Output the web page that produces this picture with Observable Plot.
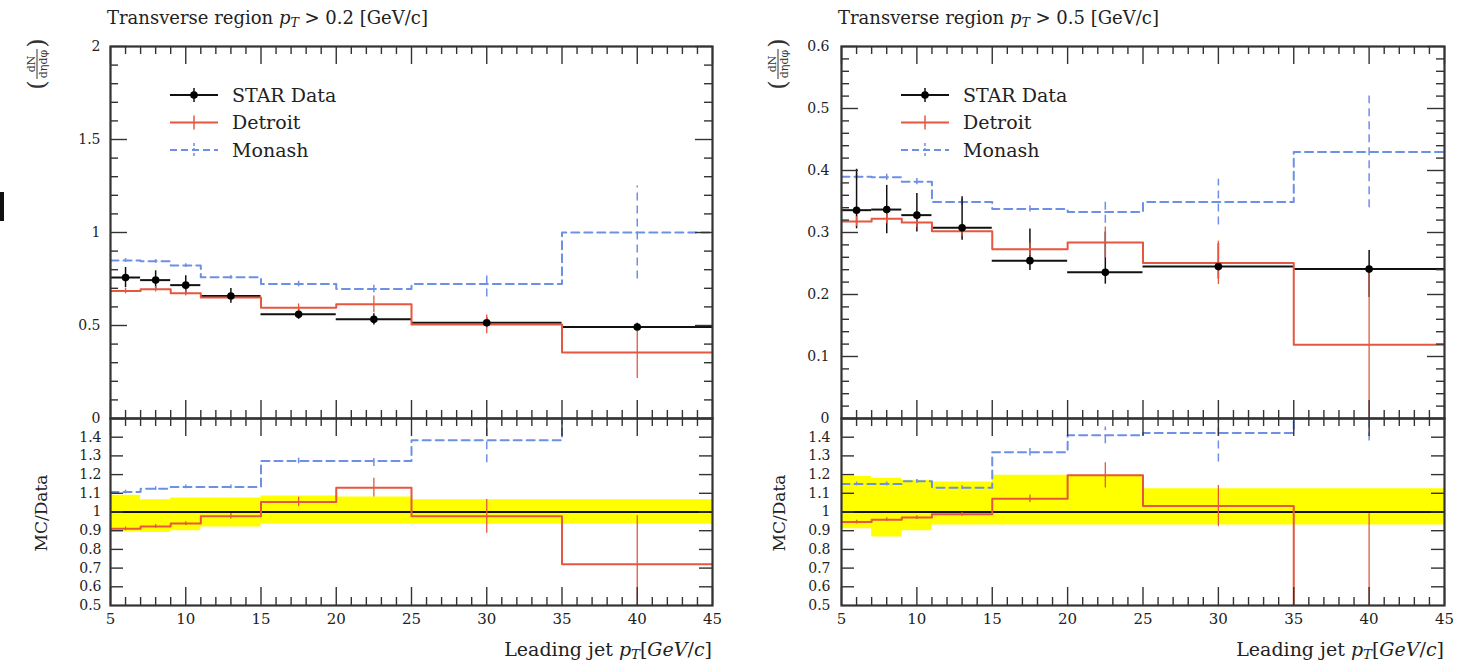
<!DOCTYPE html>
<html><head><meta charset="utf-8">
<script src="https://cdn.jsdelivr.net/npm/d3@7"></script>
<script src="https://cdn.jsdelivr.net/npm/@observablehq/plot@0.6"></script>
<style>
body{margin:0;background:#fff;}
#fig{position:relative;width:1466px;height:664px;overflow:hidden;font-family:"DejaVu Serif",serif;color:#222;}
.abs{position:absolute;}
.title{font-size:18px;white-space:nowrap;line-height:1;}
.xlab{font-size:19px;white-space:nowrap;line-height:1;text-align:right;}
sub{font-size:0.7em;vertical-align:-0.25em;line-height:0;}
</style></head><body><div id="fig"></div>
<script>
// ---- data ----
const edges = [5, 7, 9, 11, 15, 20, 25, 35, 45];
const centers = [6, 8, 10, 13, 17.5, 22.5, 30, 40];
const xMajorTicks = [5, 10, 15, 20, 25, 30, 35, 40, 45];
const xMinorTicks = [6,7,8,9,11,12,13,14,16,17,18,19,21,22,23,24,26,27,28,29,31,32,33,34,36,37,38,39,41,42,43,44];
const legendNames = ["STAR Data", "Detroit", "Monash"];

// pT > 0.2 GeV/c
const yTicks02 = [0, 0.5, 1, 1.5, 2];
const yMinor02 = [0.1,0.2,0.3,0.4,0.6,0.7,0.8,0.9,1.1,1.2,1.3,1.4,1.6,1.7,1.8,1.9];
const star02 = [0.758, 0.744, 0.717, 0.659, 0.560, 0.533, 0.515, 0.492];
const star02Err = [0.054, 0.05, 0.05, 0.04, 0.027, 0.03, 0.027, 0.02];
const detroit02 = [0.686, 0.695, 0.674, 0.650, 0.596, 0.614, 0.506, 0.355];
const detroit02Err = [0.015, 0.015, 0.015, 0.015, 0.02, 0.045, 0.05, 0.14];
const monash02 = [0.85, 0.845, 0.822, 0.759, 0.723, 0.696, 0.723, 1.0];
const monash02Err = [0.01, 0.01, 0.01, 0.01, 0.015, 0.02, 0.07, 0.25];
const detroitRatio02 = [0.91, 0.923, 0.938, 0.977, 1.054, 1.13, 0.977, 0.72];
const detroitRatio02Err = [0.01, 0.01, 0.01, 0.015, 0.025, 0.05, 0.09, 0.26];
const monashRatio02 = [1.107, 1.125, 1.134, 1.134, 1.273, 1.273, 1.384, 2.03];
const monashRatio02Err = [0.01, 0.01, 0.01, 0.01, 0.015, 0.03, 0.12, 0.5];
const band02Lo = [0.893, 0.89, 0.90, 0.92, 0.934, 0.934, 0.934, 0.934];
const band02Hi = [1.09, 1.065, 1.075, 1.075, 1.085, 1.08, 1.066, 1.066];

// pT > 0.5 GeV/c
const yTicks05 = [0, 0.1, 0.2, 0.3, 0.4, 0.5, 0.6];
const yMinor05 = [0.02,0.04,0.06,0.08,0.12,0.14,0.16,0.18,0.22,0.24,0.26,0.28,0.32,0.34,0.36,0.38,0.42,0.44,0.46,0.48,0.52,0.54,0.56,0.58];
const star05 = [0.336, 0.337, 0.328, 0.3075, 0.2546, 0.2357, 0.245, 0.241];
const star05ErrUp = [0.066, 0.039, 0.035, 0.05, 0.051, 0.065, 0.037, 0.03];
const star05ErrDn = [0.03, 0.039, 0.027, 0.02, 0.016, 0.019, 0.02, 0.046];
const detroit05 = [0.3176, 0.322, 0.316, 0.302, 0.273, 0.284, 0.251, 0.119];
const detroit05Err = [0.008, 0.008, 0.008, 0.008, 0.01, 0.025, 0.035, 0.125];
const monash05 = [0.39, 0.389, 0.382, 0.349, 0.338, 0.333, 0.349, 0.430];
const monash05Err = [0.005, 0.005, 0.005, 0.005, 0.005, 0.018, 0.037, 0.09];
const detroitRatio05 = [0.946, 0.959, 0.97, 0.9875, 1.071, 1.196, 1.032, 0.49];
const detroitRatio05Err = [0.01, 0.01, 0.01, 0.01, 0.02, 0.067, 0.11, 0.5];
const monashRatio05 = [1.15, 1.15, 1.164, 1.13, 1.32, 1.41, 1.423, 1.78];
const monashRatio05Err = [0.01, 0.01, 0.01, 0.01, 0.02, 0.045, 0.155, 0.4];
const band05Lo = [0.91, 0.866, 0.90, 0.93, 0.93, 0.93, 0.93, 0.93];
const band05Hi = [1.19, 1.18, 1.17, 1.16, 1.196, 1.196, 1.125, 1.125];

const ratioTicks = [0.5, 0.6, 0.7, 0.8, 0.9, 1, 1.1, 1.2, 1.3, 1.4];

// ---- styles ----
const RED = "#e5573f", BLUE = "#6d8fe6", YEL = "#ffff00", FRAME = "#333";
const DASH = "8,5";
const FONT = "DejaVu Serif";
const W = 733;

const fig = document.getElementById("fig");

function bins(vals, eLo, eHi) {
  return centers.map((c, i) => ({lo: edges[i], hi: edges[i + 1], c, v: vals[i],
    y1: vals[i] - eLo[i], y2: vals[i] + (eHi ? eHi[i] : eLo[i])}));
}
function steps(vals) {
  const p = [];
  vals.forEach((v, i) => { p.push({x: edges[i], y: v}); p.push({x: edges[i + 1], y: v}); });
  return p;
}
function bandSteps(lo, hi) {
  const p = [];
  lo.forEach((l, i) => { p.push({x: edges[i], lo: l, hi: hi[i]}); p.push({x: edges[i + 1], lo: l, hi: hi[i]}); });
  return p;
}
function tickMarks(fw, fh, yMajor, yMinor, yMajLen, yMinLen) {
  const xs = {stroke: FRAME, strokeWidth: 1.4};
  const m = [
    Plot.ruleX(xMinorTicks, {x: d => d, insetBottom: fh - 8, ...xs}),
    Plot.ruleX(xMinorTicks, {x: d => d, insetTop: fh - 8, ...xs}),
    Plot.ruleX(xMajorTicks, {x: d => d, insetBottom: fh - 18, ...xs}),
    Plot.ruleX(xMajorTicks, {x: d => d, insetTop: fh - 18, ...xs}),
    Plot.ruleY(yMajor, {y: d => d, insetRight: fw - yMajLen, ...xs}),
    Plot.ruleY(yMajor, {y: d => d, insetLeft: fw - yMajLen, ...xs})
  ];
  if (yMinor) m.push(
    Plot.ruleY(yMinor, {y: d => d, insetRight: fw - yMinLen, ...xs}),
    Plot.ruleY(yMinor, {y: d => d, insetLeft: fw - yMinLen, ...xs}));
  return m;
}
function place(svg, left, top) {
  svg.style.position = "absolute";
  svg.style.left = left + "px";
  svg.style.top = top + "px";
  fig.appendChild(svg);
}

function upper({left, ml, mr, yDomain, yTicks, yMinor, pad, star, starDn, starUp, det, detErr, mon, monErr}) {
  const height = 420, mt = 46, mb = 2;
  const fw = W - ml - mr, fh = height - mt - mb;
  const S = bins(star, starDn, starUp), D = bins(det, detErr), M = bins(mon, monErr);
  const svg = Plot.plot({
    width: W, height, marginTop: mt, marginBottom: mb, marginLeft: ml, marginRight: mr,
    x: {domain: [5, 45], axis: null}, y: {domain: yDomain, axis: null},
    style: {fontFamily: FONT, fontSize: "14px", background: "transparent", overflow: "visible", color: "#222"},
    marks: [
      Plot.line(steps(mon), {x: "x", y: "y", stroke: BLUE, strokeWidth: 2, strokeDasharray: DASH, clip: true}),
      Plot.ruleX(M, {x: "c", y1: "y1", y2: "y2", stroke: BLUE, strokeWidth: 1.5, strokeDasharray: DASH, clip: true}),
      Plot.ruleY(S, {y: "v", x1: "lo", x2: "hi", stroke: "#111", strokeWidth: 2, clip: true}),
      Plot.ruleX(S, {x: "c", y1: "y1", y2: "y2", stroke: "#111", strokeWidth: 1.5, clip: true}),
      Plot.line(steps(det), {x: "x", y: "y", stroke: RED, strokeWidth: 2, clip: true}),
      Plot.ruleX(D, {x: "c", y1: "y1", y2: "y2", stroke: RED, strokeWidth: 1.3, clip: true}),
      Plot.dot(S, {x: "c", y: "v", r: 3.8, fill: "#000", clip: true}),
      ...tickMarks(fw, fh, yTicks, yMinor, 17, 8),
      Plot.frame({stroke: FRAME, strokeWidth: 2.2}),
      Plot.axisY({ticks: yTicks, tickSize: 0, tickPadding: pad, tickFormat: d => String(d), fontSize: 14})
    ]
  });
  place(svg, left, 0);
}

function ratio({left, ml, mr, pad, bandLo, bandHi, det, detErr, mon, monErr}) {
  const top = 400, height = 264, mt = 18, mb = 59;
  const fw = W - ml - mr, fh = height - mt - mb;
  const D = bins(det, detErr), M = bins(mon, monErr);
  const svg = Plot.plot({
    width: W, height, marginTop: mt, marginBottom: mb, marginLeft: ml, marginRight: mr,
    x: {domain: [5, 45], axis: null}, y: {domain: [0.5, 1.5], axis: null},
    style: {fontFamily: FONT, fontSize: "14px", background: "transparent", overflow: "visible", color: "#222"},
    marks: [
      Plot.areaY(bandSteps(bandLo, bandHi), {x: "x", y1: "lo", y2: "hi", fill: YEL, clip: true}),
      Plot.ruleY([1], {stroke: "#111", strokeWidth: 2.2}),
      Plot.line(steps(mon), {x: "x", y: "y", stroke: BLUE, strokeWidth: 2, strokeDasharray: DASH, clip: true}),
      Plot.ruleX(M, {x: "c", y1: "y1", y2: "y2", stroke: BLUE, strokeWidth: 1.5, strokeDasharray: DASH, clip: true}),
      Plot.line(steps(det), {x: "x", y: "y", stroke: RED, strokeWidth: 2, clip: true}),
      Plot.ruleX(D, {x: "c", y1: "y1", y2: "y2", stroke: RED, strokeWidth: 1.3, clip: true}),
      ...tickMarks(fw, fh, ratioTicks.slice(1), null, 13, 0),
      Plot.frame({stroke: FRAME, strokeWidth: 2.2}),
      Plot.axisY({ticks: ratioTicks, tickSize: 0, tickPadding: pad, tickFormat: d => String(d), fontSize: 14}),
      Plot.axisX({ticks: xMajorTicks, tickSize: 0, tickPadding: 8, tickFormat: d => String(d), fontSize: 15})
    ]
  });
  place(svg, left, top);
}

upper({left: 0, ml: 110, mr: 21, yDomain: [0, 2], yTicks: yTicks02, yMinor: yMinor02, pad: 10,
  star: star02, starDn: star02Err, starUp: star02Err, det: detroit02, detErr: detroit02Err, mon: monash02, monErr: monash02Err});
ratio({left: 0, ml: 110, mr: 21, pad: 9, bandLo: band02Lo, bandHi: band02Hi,
  det: detroitRatio02, detErr: detroitRatio02Err, mon: monashRatio02, monErr: monashRatio02Err});
upper({left: 733, ml: 108, mr: 22, yDomain: [0, 0.6], yTicks: yTicks05, yMinor: yMinor05, pad: 12,
  star: star05, starDn: star05ErrDn, starUp: star05ErrUp, det: detroit05, detErr: detroit05Err, mon: monash05, monErr: monash05Err});
ratio({left: 733, ml: 108, mr: 22, pad: 11, bandLo: band05Lo, bandHi: band05Hi,
  det: detroitRatio05, detErr: detroitRatio05Err, mon: monashRatio05, monErr: monashRatio05Err});

// ---- overlay: legends and y labels ----
const ov = d3.select(fig).append("svg").attr("width", 1466).attr("height", 664)
  .style("position", "absolute").style("left", 0).style("top", 0)
  .style("font-family", FONT).style("overflow", "visible");
const legendColors = ["#111", RED, BLUE];
function legend(x0, y0) {
  const g = ov.append("g").attr("transform", `translate(${x0},${y0})`);
  legendNames.forEach((name, i) => {
    const y = i * 27.5, col = legendColors[i], dash = i === 2 ? "7,4" : null;
    g.append("line").attr("x1", 0).attr("x2", 48).attr("y1", y).attr("y2", y)
      .attr("stroke", col).attr("stroke-width", 2).attr("stroke-dasharray", dash);
    g.append("line").attr("x1", 24).attr("x2", 24).attr("y1", y - 7).attr("y2", y + 7)
      .attr("stroke", col).attr("stroke-width", 1.5).attr("stroke-dasharray", i === 2 ? "3,2" : null);
    if (i === 0) g.append("circle").attr("cx", 24).attr("cy", y).attr("r", 3.8).attr("fill", "#000");
    g.append("text").attr("x", 62).attr("y", y).attr("dy", "0.35em").attr("font-size", 19)
      .attr("fill", "#222").text(name);
  });
}
legend(170, 95);
legend(901, 95);

function fracLabel(cx, cy) {
  const g = ov.append("g").attr("transform", `translate(${cx},${cy}) rotate(-90)`).attr("fill", "#333");
  g.append("text").attr("x", -21).attr("y", 0).attr("dy", "0.35em").attr("text-anchor", "middle").attr("font-size", 24).text("(");
  g.append("text").attr("x", 21).attr("y", 0).attr("dy", "0.35em").attr("text-anchor", "middle").attr("font-size", 24).text(")");
  g.append("text").attr("x", 0).attr("y", -2.5).attr("text-anchor", "middle").attr("font-size", 11).text("dN");
  g.append("line").attr("x1", -15).attr("x2", 15).attr("y1", 0).attr("y2", 0).attr("stroke", "#333").attr("stroke-width", 1);
  g.append("text").attr("x", 0).attr("y", 10).attr("text-anchor", "middle").attr("font-size", 11).text("dηdφ");
}
fracLabel(37, 64);
fracLabel(778, 64);

function mcLabel(cx, cy) {
  ov.append("text").attr("transform", `translate(${cx},${cy}) rotate(-90)`).attr("text-anchor", "middle")
    .attr("dy", "0.35em").attr("font-size", 17).attr("fill", "#222").text("MC/Data");
}
mcLabel(41, 513);
mcLabel(779, 513);

// ---- titles and axis labels (HTML) ----
function html(cls, style, inner) {
  const d = document.createElement("div");
  d.className = "abs " + cls;
  Object.assign(d.style, style);
  d.innerHTML = inner;
  fig.appendChild(d);
}
html("title", {left: "107px", top: "9px"}, "Transverse region <i>p</i><sub><i>T</i></sub> &gt; 0.2 [GeV/c]");
html("title", {left: "838px", top: "9px"}, "Transverse region <i>p</i><sub><i>T</i></sub> &gt; 0.5 [GeV/c]");
html("xlab", {right: (1466 - 712) + "px", top: "640px"}, "Leading jet <i>p</i><sub><i>T</i></sub>[<i>GeV</i>/<i>c</i>]");
html("xlab", {right: (1466 - 1444) + "px", top: "640px"}, "Leading jet <i>p</i><sub><i>T</i></sub>[<i>GeV</i>/<i>c</i>]");
html("", {left: "0px", top: "192px", width: "4px", height: "29px", background: "#111"}, "");
</script>
</body></html>
